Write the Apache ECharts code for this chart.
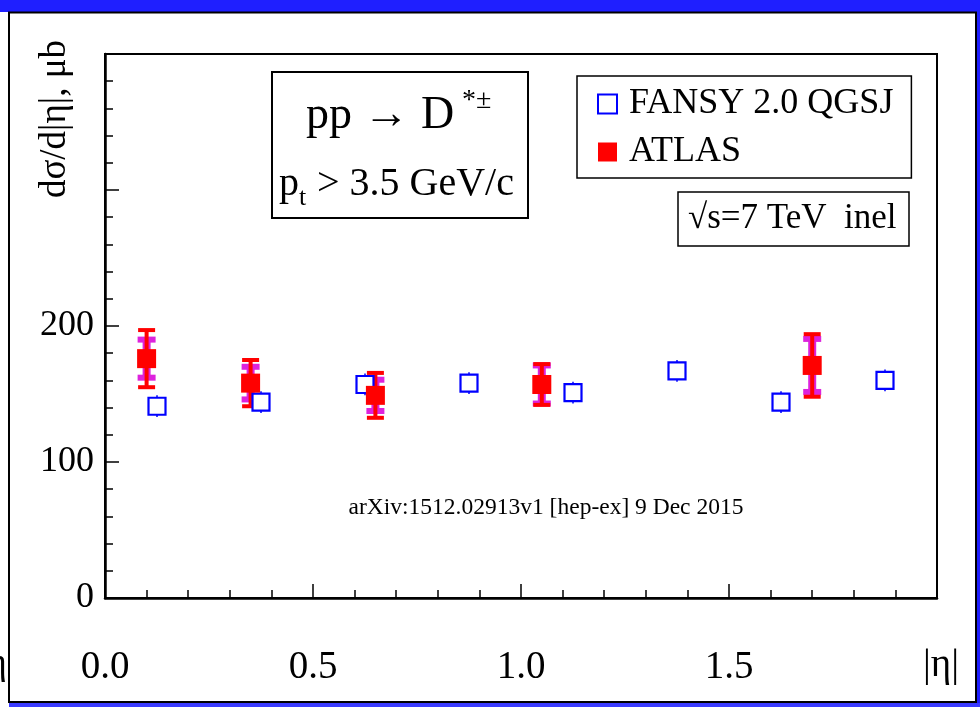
<!DOCTYPE html>
<html>
<head>
<meta charset="utf-8">
<script src="https://cdn.jsdelivr.net/npm/echarts@6/dist/echarts.min.js"></script>
<style>
html,body{margin:0;padding:0;background:#fff;}
#chart{width:980px;height:707px;}
</style>
</head>
<body>
<div id="chart"></div>
<script>
// ---- data ----
const fansyX   = [0.125, 0.375, 0.625, 0.875, 1.125, 1.375, 1.625, 1.875];
const fansyY   = [141, 144, 157, 158, 151, 167, 144, 160];
const fansyErr = [8, 8, 8, 8, 8, 8, 8, 8];
const atlasX   = [0.10, 0.35, 0.65, 1.05, 1.70];
const atlasY   = [176, 158, 149, 157, 171];
const atlasErr = [21, 17, 16.5, 15, 23];
const atlasSys = [14, 12, 11.5, 14, 19.5];
const xTicks   = [0.0, 0.5, 1.0, 1.5];
const yTicks   = [0, 100, 200];

const FONT = 'Liberation Serif';
const chart = echarts.init(document.getElementById('chart'), null, {renderer: 'canvas'});

function errRenderer(capW, capH, stemW, color) {
  return function (params, api) {
    const x = api.value(0), y = api.value(1), e = api.value(2);
    const top = api.coord([x, y + e]);
    const bot = api.coord([x, y - e]);
    return {
      type: 'group',
      children: [
        {type: 'rect', shape: {x: top[0] - stemW / 2, y: top[1], width: stemW, height: bot[1] - top[1]}, style: {fill: color}},
        {type: 'rect', shape: {x: top[0] - capW / 2, y: top[1] - capH / 2, width: capW, height: capH}, style: {fill: color}},
        {type: 'rect', shape: {x: bot[0] - capW / 2, y: bot[1] - capH / 2, width: capW, height: capH}, style: {fill: color}}
      ]
    };
  };
}

const option = {
  backgroundColor: '#fff',
  animation: false,
  grid: {left: 105, top: 54, right: 43, bottom: 109, show: true, borderColor: '#000', borderWidth: 2, backgroundColor: 'transparent'},
  xAxis: {
    type: 'value', min: 0, max: 2, interval: 0.5,
    axisLine: {lineStyle: {color: '#000', width: 2.5}},
    axisTick: {inside: true, length: 14, lineStyle: {color: '#000', width: 1.5}},
    minorTick: {show: true, splitNumber: 5, length: 8, lineStyle: {color: '#000', width: 1.5}},
    splitLine: {show: false},
    axisLabel: {
      margin: 50, fontFamily: FONT, fontSize: 39, color: '#000',
      formatter: function (v) { return xTicks.indexOf(v) >= 0 ? v.toFixed(1) : ''; }
    }
  },
  yAxis: {
    type: 'value', min: 0, max: 400, interval: 100,
    axisLine: {lineStyle: {color: '#000', width: 2.5}},
    axisTick: {inside: true, length: 14, lineStyle: {color: '#000', width: 1.5}},
    minorTick: {show: true, splitNumber: 5, length: 8, lineStyle: {color: '#000', width: 1.5}},
    splitLine: {show: false},
    axisLabel: {
      margin: 11, fontFamily: FONT, fontSize: 36, color: '#000',
      formatter: function (v) { return yTicks.indexOf(v) >= 0 ? String(v) : ''; }
    }
  },
  legend: {
    left: 577, top: 76, orient: 'vertical',
    padding: [8, 18, 6, 20], itemWidth: 19, itemHeight: 19, itemGap: 8,
    borderColor: '#000', borderWidth: 1.5, backgroundColor: '#fff',
    textStyle: {fontFamily: FONT, fontSize: 36, color: '#000', padding: [0, 0, 0, 7], lineHeight: 40},
    data: ['FANSY 2.0 QGSJ', 'ATLAS']
  },
  graphic: [
    // outer slide frame
    {type: 'rect', silent: true, z: -10, shape: {x: 0, y: 0, width: 980, height: 12}, style: {fill: '#1f1fff'}},
    {type: 'rect', silent: true, z: -10, shape: {x: 977, y: 0, width: 3, height: 707}, style: {fill: '#1f1fff'}},
    {type: 'rect', silent: true, z: -10, shape: {x: 9, y: 703, width: 971, height: 4}, style: {fill: '#3a3aff'}},
    {type: 'line', silent: true, z: -9, shape: {x1: 8, y1: 12.5, x2: 977, y2: 12.5}, style: {stroke: '#000', lineWidth: 2}},
    {type: 'line', silent: true, z: -9, shape: {x1: 9, y1: 12, x2: 9, y2: 703}, style: {stroke: '#000', lineWidth: 2}},
    {type: 'line', silent: true, z: -9, shape: {x1: 976, y1: 12, x2: 976, y2: 703}, style: {stroke: '#000', lineWidth: 2}},
    {type: 'line', silent: true, z: -9, shape: {x1: 9, y1: 702, x2: 977, y2: 702}, style: {stroke: '#000', lineWidth: 2}},
    {type: 'text', silent: true, style: {x: -13, y: 664, text: 'η', font: '38px "Liberation Serif"', fill: '#000', verticalAlign: 'middle'}},
    // y axis title
    {type: 'text', silent: true, x: 55, y: 119, rotation: Math.PI / 2,
      style: {x: 0, y: 0, text: 'dσ/d|η|, μb', font: '37px "Liberation Serif"', fill: '#000', align: 'center', verticalAlign: 'middle'}},
    // x axis title
    {type: 'text', silent: true, style: {x: 941, y: 666, text: '|η|', font: '39px "Liberation Serif"', fill: '#000', align: 'center', verticalAlign: 'middle'}},
    // reaction box
    {type: 'rect', silent: true, z: 5, shape: {x: 272, y: 72, width: 256, height: 146}, style: {fill: '#fff', stroke: '#000', lineWidth: 2}},
    {type: 'text', silent: true, z: 6, style: {x: 306, y: 116, text: 'pp → D', font: '46px "Liberation Serif"', fill: '#000', verticalAlign: 'middle'}},
    {type: 'text', silent: true, z: 6, style: {x: 462, y: 101, text: '*±', font: '28px "Liberation Serif"', fill: '#000', verticalAlign: 'middle'}},
    {type: 'text', silent: true, z: 6, style: {x: 279, y: 184, text: 'p', font: '40px "Liberation Serif"', fill: '#000', verticalAlign: 'middle'}},
    {type: 'text', silent: true, z: 6, style: {x: 299, y: 198, text: 't', font: '26px "Liberation Serif"', fill: '#000', verticalAlign: 'middle'}},
    {type: 'text', silent: true, z: 6, style: {x: 307, y: 184, text: ' > 3.5 GeV/c', font: '40px "Liberation Serif"', fill: '#000', verticalAlign: 'middle'}},
    // energy box
    {type: 'rect', silent: true, z: 5, shape: {x: 678, y: 192, width: 231, height: 54}, style: {fill: '#fff', stroke: '#000', lineWidth: 1.5}},
    {type: 'text', silent: true, z: 6, style: {x: 688, y: 219, text: '√s=7 TeV  inel', font: '35px "Liberation Serif"', fill: '#000', verticalAlign: 'middle'}},
    // reference
    {type: 'text', silent: true, z: 6, style: {x: 546, y: 508, text: 'arXiv:1512.02913v1 [hep-ex] 9 Dec 2015', font: '23.5px "Liberation Serif"', fill: '#000', align: 'center', verticalAlign: 'middle'}}
  ],
  series: [
    {
      name: 'ATLAS sys', type: 'custom', z: 1, silent: true,
      renderItem: errRenderer(18, 6, 8, '#dd22dd'),
      data: atlasX.map((x, i) => [x, atlasY[i], atlasSys[i]])
    },
    {
      name: 'ATLAS err', type: 'custom', z: 2, silent: true,
      renderItem: errRenderer(17, 4, 4, '#ff0000'),
      data: atlasX.map((x, i) => [x, atlasY[i], atlasErr[i]])
    },
    {
      name: 'FANSY err', type: 'custom', z: 2, silent: true,
      renderItem: errRenderer(0.01, 0.01, 1.5, '#0000ff'),
      data: fansyX.map((x, i) => [x, fansyY[i], fansyErr[i]])
    },
    {
      name: 'FANSY 2.0 QGSJ', type: 'scatter', z: 3,
      symbol: 'rect', symbolSize: 17,
      itemStyle: {color: '#fff', borderColor: '#0000ff', borderWidth: 2.2, opacity: 1},
      data: fansyX.map((x, i) => [x, fansyY[i]])
    },
    {
      name: 'ATLAS', type: 'scatter', z: 4,
      symbol: 'rect', symbolSize: 19,
      itemStyle: {color: '#ff0000', opacity: 1},
      data: atlasX.map((x, i) => [x, atlasY[i]])
    }
  ]
};
chart.setOption(option);
</script>
</body>
</html>
